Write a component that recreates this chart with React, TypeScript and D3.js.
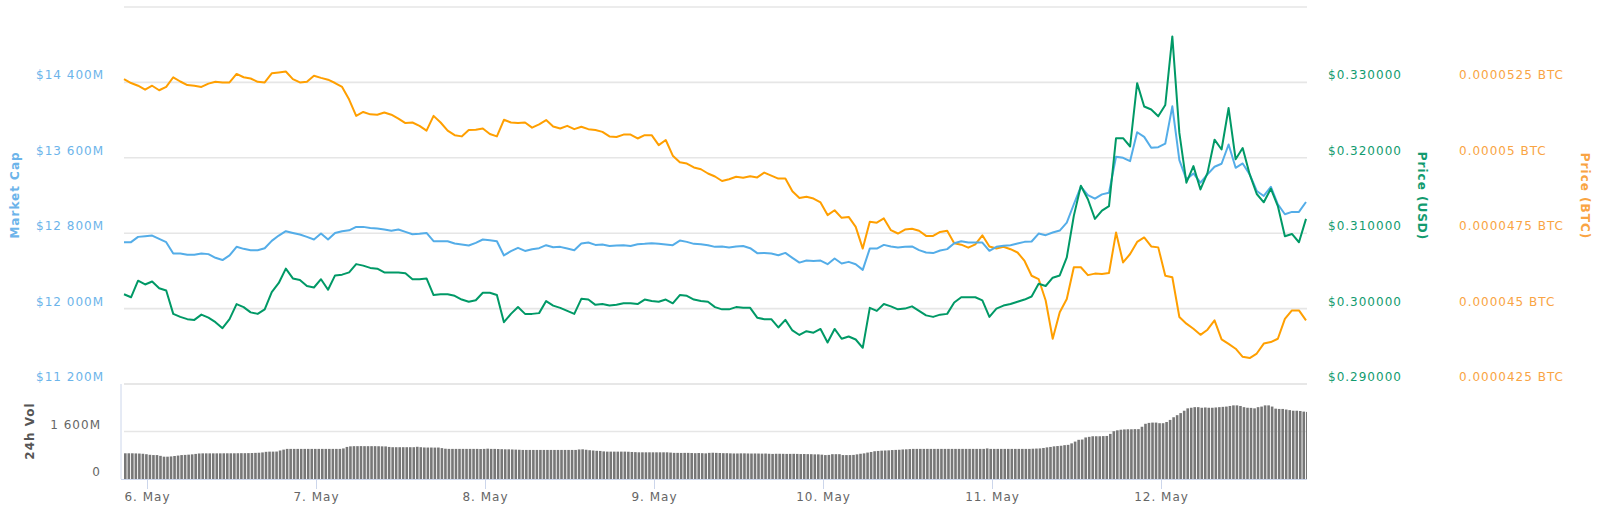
import { useMemo } from 'react';
import * as d3 from 'd3';

const WIDTH = 1600;
const HEIGHT = 508;
const BOUNDS = { left: 124, right: 1306, top: 7, mainBottom: 384, volTop: 384, volBottom: 479 };

// first sample of the 7 day window, lines are hourly, volume every 30 min
const START = Date.UTC(2019, 4, 5, 20, 40);
const HOUR = 3600 * 1000;

// market cap, millions USD
const marketCap = [
  12705, 12705, 12761, 12768, 12775, 12740, 12705, 12585, 12585, 12571,
  12571, 12585, 12578, 12539, 12515, 12564, 12656, 12634, 12620, 12620,
  12641, 12719, 12775, 12821, 12803, 12786, 12761, 12733, 12796, 12733,
  12803, 12821, 12831, 12867, 12867, 12856, 12849, 12839, 12825, 12839,
  12814, 12789, 12793, 12803, 12715, 12715, 12715, 12691, 12680, 12670,
  12698, 12733, 12726, 12715, 12564, 12610, 12645, 12612, 12630, 12641,
  12673, 12651, 12655, 12637, 12619, 12690, 12701, 12676, 12680, 12665,
  12669, 12673, 12665, 12683, 12687, 12694, 12687, 12680, 12673, 12722,
  12708, 12687, 12683, 12673, 12655, 12659, 12648, 12659, 12665, 12641,
  12588, 12591, 12584, 12566, 12591, 12538, 12488, 12510, 12506, 12510,
  12471, 12531, 12478, 12496, 12471, 12411, 12637, 12637, 12676, 12658,
  12648, 12655, 12660, 12620, 12596, 12589, 12617, 12631, 12694, 12715,
  12701, 12701, 12701, 12613, 12656, 12666, 12673, 12691, 12708, 12712,
  12796, 12779, 12807, 12828, 12913, 13107, 13293, 13205, 13166, 13212,
  13230, 13610, 13600, 13565, 13871, 13822, 13706, 13713, 13751, 14146,
  13575, 13371, 13434, 13336, 13424, 13505, 13537, 13741, 13494, 13540,
  13424, 13248, 13195, 13293, 13107, 13001, 13026, 13026, 13131,
];

// price, USD
const priceUsd = [
  0.3019, 0.3015, 0.3037, 0.3032, 0.3036, 0.3027, 0.3024, 0.2993, 0.2989, 0.2986,
  0.2985, 0.2992, 0.2988, 0.2982, 0.2974, 0.2986, 0.3006, 0.3002, 0.2995, 0.2993,
  0.2999, 0.3022, 0.3034, 0.3053, 0.304, 0.3038, 0.303, 0.3028, 0.3039, 0.3025,
  0.3044, 0.3045, 0.3048, 0.3059, 0.3057, 0.3054, 0.3053, 0.3048, 0.3048, 0.3048,
  0.3047, 0.3039, 0.3039, 0.304, 0.3018, 0.3019, 0.3019, 0.3017, 0.3012, 0.3009,
  0.3011, 0.3021, 0.3021, 0.3018, 0.2982, 0.2993, 0.3002, 0.2993, 0.2993, 0.2994,
  0.301, 0.3004, 0.3001, 0.2997, 0.2993, 0.3013, 0.3012, 0.3005, 0.3006, 0.3004,
  0.3005, 0.3007, 0.3007, 0.3006, 0.3012, 0.301, 0.3009, 0.3012, 0.3007, 0.3018,
  0.3017, 0.3012, 0.301, 0.3009, 0.3002, 0.2999, 0.2999, 0.3002, 0.3001, 0.3001,
  0.2988, 0.2986, 0.2986, 0.2975, 0.2985, 0.2971, 0.2965, 0.297, 0.2968, 0.2973,
  0.2955, 0.2973, 0.296, 0.2963, 0.2959, 0.2948, 0.3001, 0.2997, 0.3006, 0.3003,
  0.2999, 0.3, 0.3003, 0.2997, 0.2991, 0.2989, 0.2992, 0.2993, 0.3008, 0.3015,
  0.3015, 0.3015, 0.3011, 0.2989, 0.3, 0.3004, 0.3006, 0.3009, 0.3012, 0.3016,
  0.3033, 0.303, 0.3041, 0.3044, 0.3068, 0.3123, 0.3163, 0.3145, 0.3119, 0.313,
  0.3136, 0.3226, 0.3226, 0.3215, 0.3299, 0.3268, 0.3264, 0.3255, 0.327, 0.3361,
  0.3233, 0.3167, 0.3189, 0.3158, 0.318, 0.3224, 0.3211, 0.3266, 0.3198, 0.3213,
  0.3178, 0.3152, 0.3141, 0.3159, 0.3136, 0.3096, 0.3099, 0.3088, 0.3119,
];

// price in satoshi (1e-8 BTC)
const priceBtcSat = [
  5261, 5248, 5239, 5226, 5239, 5224, 5235, 5267, 5253, 5241,
  5239, 5235, 5246, 5252, 5250, 5250, 5278, 5267, 5263, 5252,
  5250, 5280, 5283, 5286, 5261, 5250, 5252, 5272, 5265, 5259,
  5248, 5235, 5193, 5139, 5152, 5144, 5143, 5150, 5143, 5130,
  5115, 5117, 5106, 5090, 5139, 5117, 5090, 5075, 5071, 5092,
  5093, 5097, 5079, 5071, 5126, 5117, 5115, 5117, 5100, 5111,
  5125, 5104, 5097, 5106, 5095, 5103, 5095, 5092, 5086, 5071,
  5069, 5077, 5077, 5064, 5075, 5075, 5042, 5059, 5007, 4985,
  4981, 4968, 4962, 4948, 4938, 4923, 4929, 4937, 4934, 4939,
  4935, 4951, 4941, 4931, 4931, 4889, 4867, 4871, 4865, 4852,
  4810, 4826, 4801, 4804, 4771, 4699, 4788, 4785, 4799, 4760,
  4749, 4762, 4765, 4758, 4741, 4741, 4754, 4758, 4717, 4712,
  4702, 4713, 4743, 4706, 4699, 4705, 4697, 4686, 4658, 4609,
  4598, 4527, 4400, 4488, 4532, 4637, 4637, 4611, 4616, 4615,
  4618, 4752, 4653, 4681, 4721, 4736, 4706, 4703, 4609, 4604,
  4472, 4450, 4433, 4413, 4430, 4461, 4398, 4383, 4367, 4340,
  4336, 4351, 4384, 4389, 4400, 4466, 4494, 4494, 4461,
];

// 24h volume, millions USD, one bar per 30 min
const volume24h = [
  866, 866, 866, 862, 858, 850, 835, 815, 806, 806,
  780, 752, 752, 760, 775, 790, 806, 812, 820, 830,
  845, 860, 864, 864, 864, 864, 864, 864, 866, 866,
  866, 866, 868, 870, 870, 872, 875, 880, 885, 895,
  915, 922, 922, 925, 960, 990, 1014, 1014, 1014, 1014,
  1014, 1014, 1014, 1014, 1014, 1014, 1014, 1014, 1014, 1014,
  1014, 1014, 1030, 1080, 1100, 1106, 1106, 1108, 1106, 1106,
  1106, 1106, 1104, 1100, 1098, 1080, 1071, 1071, 1071, 1071,
  1071, 1071, 1071, 1085, 1071, 1062, 1060, 1060, 1058, 1060,
  1040, 1020, 1014, 1014, 1014, 1014, 1014, 1014, 1014, 1014,
  1014, 1010, 1014, 1022, 1014, 1014, 1010, 1005, 1000, 1000,
  995, 990, 985, 979, 979, 979, 979, 979, 979, 979,
  979, 979, 979, 979, 979, 979, 979, 979, 979, 995,
  1000, 985, 970, 960, 950, 945, 930, 922, 922, 922,
  922, 922, 922, 918, 910, 905, 899, 899, 899, 899,
  899, 899, 899, 899, 899, 890, 880, 880, 878, 880,
  880, 875, 870, 875, 870, 864, 880, 885, 880, 875,
  870, 870, 864, 860, 860, 864, 864, 860, 858, 860,
  858, 855, 858, 850, 845, 850, 850, 848, 845, 846,
  848, 845, 840, 842, 838, 836, 830, 830, 820, 806,
  812, 836, 836, 836, 806, 806, 806, 812, 830, 850,
  864, 890, 910, 935, 945, 955, 960, 965, 975, 980,
  985, 995, 1000, 1008, 1014, 1014, 1014, 1014, 1014, 1014,
  1014, 1014, 1014, 1014, 1014, 1014, 1014, 1014, 1014, 1014,
  1014, 1014, 1014, 1014, 1014, 1030, 1014, 1014, 1014, 1014,
  1014, 1014, 1014, 1014, 1014, 1014, 1014, 1014, 1020, 1025,
  1030, 1045, 1065, 1080, 1100, 1110, 1120, 1140, 1150, 1200,
  1260, 1320, 1330, 1400, 1420, 1440, 1440, 1440, 1445, 1450,
  1520, 1610, 1640, 1660, 1670, 1675, 1675, 1680, 1680, 1760,
  1860, 1890, 1900, 1900, 1880, 1880, 1920, 1990, 2080, 2150,
  2220, 2300, 2380, 2400, 2420, 2420, 2400, 2410, 2400, 2400,
  2410, 2420, 2430, 2440, 2460, 2480, 2480, 2460, 2420, 2400,
  2395, 2380, 2420, 2440, 2480, 2480, 2440, 2370, 2360, 2360,
  2340, 2320, 2300, 2300, 2290, 2270, 2260,
];

const capGrid = [11200, 12000, 12800, 13600, 14400, 15200];
const capTicks = [11200, 12000, 12800, 13600, 14400];
const usdTicks = [0.29, 0.3, 0.31, 0.32, 0.33];
const btcTicks = [4250, 4500, 4750, 5000, 5250];
const volGrid = [1600, 3200];
const volTicks = [0, 1600];
const dayTicks = [6, 7, 8, 9, 10, 11, 12];

const COLORS = {
  capLine: '#54ade8',
  capText: '#6cb4ea',
  usdLine: '#009966',
  usdText: '#129b6f',
  btcLine: '#ff9f00',
  btcText: '#f9a443',
  grid: '#e6e6e6',
  axis: '#ccd6eb',
  bar: '#777777',
  label: '#666666',
};

const FONT = '"DejaVu Sans", Verdana, sans-serif';

const fmtMillions = (v: number) => d3.format(',')(v).replace(/,/g, ' ') + 'M';
const fmtBtc = (sat: number) => (sat / 1e8).toFixed(8).replace(/0+$/, '') + ' BTC';

const App = () => {
  const end = START + 168 * HOUR;

  const xScale = useMemo(
    () => d3.scaleUtc().domain([START, end]).range([BOUNDS.left, BOUNDS.right]),
    [end]
  );
  const capScale = d3.scaleLinear().domain([11200, 15200]).range([BOUNDS.mainBottom, BOUNDS.top]);
  const usdScale = d3.scaleLinear().domain([0.29, 0.34]).range([BOUNDS.mainBottom, BOUNDS.top]);
  const btcScale = d3.scaleLinear().domain([4250, 5500]).range([BOUNDS.mainBottom, BOUNDS.top]);
  const volScale = d3.scaleLinear().domain([0, 3200]).range([BOUNDS.volBottom, BOUNDS.volTop]);

  const hourTime = (i: number) => START + i * HOUR;

  const buildLine = (values: number[], scale: d3.ScaleLinear<number, number>) =>
    d3
      .line<number>()
      .x((_, i) => xScale(hourTime(i)))
      .y((d) => scale(d))(values) || '';

  const capPath = buildLine(marketCap, capScale);
  const usdPath = buildLine(priceUsd, usdScale);
  const btcPath = buildLine(priceBtcSat, btcScale);

  const barStep = xScale(START + HOUR / 2) - xScale(START);
  const barWidth = barStep * 0.74;

  const textStyle = { fontFamily: FONT, fontSize: 12, letterSpacing: 1 };

  return (
    <svg
      width={WIDTH}
      height={HEIGHT}
      style={{ position: 'absolute', left: 0, top: 0, background: '#fff' }}
    >
      <defs>
        <clipPath id="vol-clip">
          <rect
            x={BOUNDS.left - 2}
            y={BOUNDS.volTop}
            width={BOUNDS.right - BOUNDS.left + 3}
            height={BOUNDS.volBottom - BOUNDS.volTop}
          />
        </clipPath>
      </defs>

      {/* grid lines, main pane */}
      {capGrid.map((v) => (
        <line
          key={'g' + v}
          x1={BOUNDS.left}
          x2={BOUNDS.right + 1}
          y1={capScale(v)}
          y2={capScale(v)}
          stroke={COLORS.grid}
          strokeWidth={1.6}
        />
      ))}
      {/* grid lines, volume pane */}
      {volGrid.map((v) => (
        <line
          key={'vg' + v}
          x1={BOUNDS.left}
          x2={BOUNDS.right + 1}
          y1={volScale(v)}
          y2={volScale(v)}
          stroke={COLORS.grid}
          strokeWidth={1.6}
        />
      ))}

      {/* volume bars */}
      <g clipPath="url(#vol-clip)">
        {volume24h.map((v, j) => {
          const cx = xScale(START + (j * HOUR) / 2);
          return (
            <rect
              key={'b' + j}
              x={cx - barWidth / 2 + barWidth / 2}
              y={volScale(v)}
              width={barWidth}
              height={volScale(0) - volScale(v)}
              fill={COLORS.bar}
            />
          );
        })}
      </g>

      {/* axis lines */}
      <line
        x1={BOUNDS.left - 3}
        x2={BOUNDS.left - 3}
        y1={BOUNDS.volTop}
        y2={BOUNDS.volBottom}
        stroke={COLORS.axis}
        strokeWidth={1}
      />
      <line
        x1={BOUNDS.left - 3}
        x2={BOUNDS.right + 1}
        y1={BOUNDS.volBottom + 0.5}
        y2={BOUNDS.volBottom + 0.5}
        stroke={COLORS.axis}
        strokeWidth={1}
      />
      {dayTicks.map((d) => {
        const x = Math.round(xScale(Date.UTC(2019, 4, d))) + 0.5;
        return (
          <g key={'t' + d}>
            <line x1={x} x2={x} y1={BOUNDS.volBottom} y2={BOUNDS.volBottom + 10} stroke={COLORS.axis} />
            <text x={x} y={501} textAnchor="middle" fill={COLORS.label} style={textStyle}>
              {d}. May
            </text>
          </g>
        );
      })}

      {/* series */}
      <path d={btcPath} fill="none" stroke={COLORS.btcLine} strokeWidth={2} strokeLinejoin="round" />
      <path d={capPath} fill="none" stroke={COLORS.capLine} strokeWidth={2} strokeLinejoin="round" />
      <path d={usdPath} fill="none" stroke={COLORS.usdLine} strokeWidth={2} strokeLinejoin="round" />

      {/* left axis, market cap */}
      {capTicks.map((v) => (
        <text key={'cl' + v} x={104} y={capScale(v) - 3} textAnchor="end" fill={COLORS.capText} style={textStyle}>
          ${fmtMillions(v)}
        </text>
      ))}
      <text
        transform="translate(19,195) rotate(-90)"
        textAnchor="middle"
        fill={COLORS.capText}
        style={{ ...textStyle, fontWeight: 'bold' }}
      >
        Market Cap
      </text>

      {/* left axis, volume */}
      {volTicks.map((v) => (
        <text key={'vl' + v} x={101} y={volScale(v) - 3} textAnchor="end" fill={COLORS.label} style={textStyle}>
          {fmtMillions(v).replace(/^0M$/, '0')}
        </text>
      ))}
      <text
        transform="translate(34,431) rotate(-90)"
        textAnchor="middle"
        fill="#555555"
        style={{ ...textStyle, fontWeight: 'bold' }}
      >
        24h Vol
      </text>

      {/* right axis, price USD */}
      {usdTicks.map((v) => (
        <text key={'ul' + v} x={1328} y={usdScale(v) - 3} fill={COLORS.usdText} style={textStyle}>
          ${v.toFixed(6)}
        </text>
      ))}
      <text
        transform="translate(1418,196) rotate(90)"
        textAnchor="middle"
        fill={COLORS.usdText}
        style={{ ...textStyle, fontWeight: 'bold' }}
      >
        Price (USD)
      </text>

      {/* right axis, price BTC */}
      {btcTicks.map((v) => (
        <text key={'bl' + v} x={1459} y={btcScale(v) - 3} fill={COLORS.btcText} style={textStyle}>
          {fmtBtc(v)}
        </text>
      ))}
      <text
        transform="translate(1581,196) rotate(90)"
        textAnchor="middle"
        fill={COLORS.btcText}
        style={{ ...textStyle, fontWeight: 'bold' }}
      >
        Price (BTC)
      </text>
    </svg>
  );
};

export default App;
